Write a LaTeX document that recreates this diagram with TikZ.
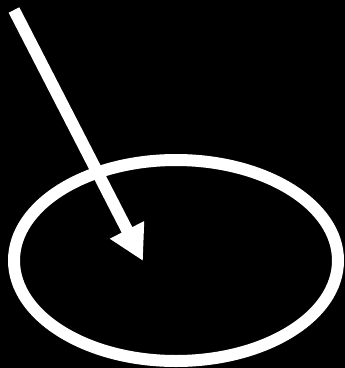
\documentclass[tikz,border=0pt]{standalone}
\usetikzlibrary{arrows.meta}
\definecolor{night}{HTML}{000000}
\definecolor{chalk}{HTML}{FFFFFF}
\tikzset{
  rim/.style={draw=chalk,line width=12pt},
  pointer/.style={-{Triangle[length=35pt,width=36pt]},draw=chalk,fill=chalk,line width=12pt}
}
\begin{document}
\begin{tikzpicture}[x=1pt,y=-1pt]
  % ---- backdrop ----
  \fill[night] (0,0) rectangle (345,368);
  \useasboundingbox (0,0) rectangle (345,368);
  % ---- the ring ----
  \draw[rim] (176,260.5) ellipse [x radius=162, y radius=100.5];
  % ---- the pointer ----
  \coordinate (tail) at (14,10);
  \coordinate (tip) at (143,261);
  \draw[pointer] (tail) -- (tip);
\end{tikzpicture}
\end{document}
